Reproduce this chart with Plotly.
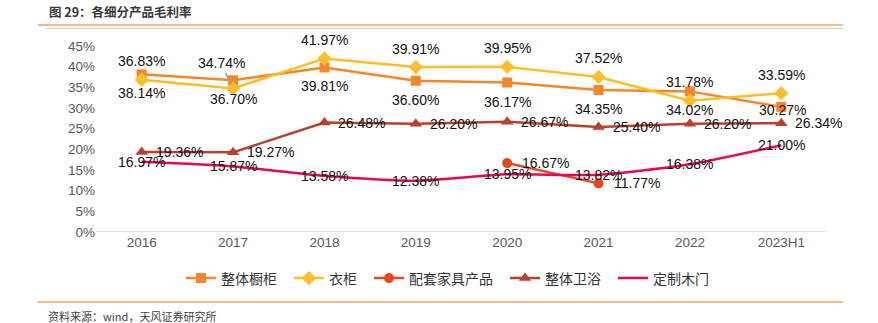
import plotly.graph_objects as go

categories = ["2016", "2017", "2018", "2019", "2020", "2021", "2022", "2023H1"]
cabinet = [38.14, 36.70, 39.81, 36.60, 36.17, 34.35, 34.02, 30.27]      # 整体橱柜
wardrobe = [36.83, 34.74, 41.97, 39.91, 39.95, 37.52, 31.78, 33.59]     # 衣柜
furniture = [None, None, None, None, 16.67, 11.77, None, None]          # 配套家具产品
bathroom = [19.36, 19.27, 26.48, 26.20, 26.67, 25.40, 26.20, 26.34]     # 整体卫浴
door = [16.97, 15.87, 13.58, 12.38, 13.95, 13.82, 16.38, 21.00]         # 定制木门
y_ticks = [0, 5, 10, 15, 20, 25, 30, 35, 40, 45]

LBL = dict(family="Liberation Sans, Arial, sans-serif", size=14, color="#111111")
PAD = "\u2002"  # small trailing gap between legend entries

fig = go.Figure()
fig.add_trace(go.Scatter(
    x=categories, y=cabinet, name="整体橱柜" + PAD, mode="lines+markers",
    line=dict(color="#F5862A", width=2.5),
    marker=dict(symbol="square", size=10, color="#F5862A")))
fig.add_trace(go.Scatter(
    x=categories, y=wardrobe, name="衣柜" + PAD, mode="lines+markers",
    line=dict(color="#FDBE2C", width=2.5),
    marker=dict(symbol="diamond", size=11, color="#FDBE2C")))
fig.add_trace(go.Scatter(
    x=categories, y=furniture, name="配套家具产品" + PAD, mode="lines+markers",
    line=dict(color="#E2491E", width=2.5),
    marker=dict(symbol="circle", size=10, color="#E2491E"),
    connectgaps=False))
fig.add_trace(go.Scatter(
    x=categories, y=bathroom, name="整体卫浴" + PAD, mode="lines+markers",
    line=dict(color="#B8412E", width=2.5),
    marker=dict(symbol="triangle-up", size=11, color="#B8412E")))
fig.add_trace(go.Scatter(
    x=categories, y=door, name="定制木门", mode="lines",
    line=dict(color="#E8084F", width=2.5, shape="spline", smoothing=0.6)))

def add_labels(vals, xanchor="center", xshift=0, yshift=0, skip=(), special=None):
    special = special or {}
    for i, v in enumerate(vals):
        if v is None or i in skip:
            continue
        xs, ys = special.get(i, (xshift, yshift))
        fig.add_annotation(x=i, y=v, text=f"{v:.2f}%", showarrow=False,
                           xanchor=xanchor, yanchor="middle",
                           xshift=xs, yshift=ys, font=LBL)

add_labels(door)
add_labels(cabinet, yshift=-19, special={7: (1, -3)})
add_labels(wardrobe, yshift=18.5, skip=(1,))
add_labels(furniture, xanchor="left", xshift=13)
add_labels(bathroom, xanchor="left", xshift=12)

fig.add_annotation(x=1, y=wardrobe[1], text=f"{wardrobe[1]:.2f}%",
                   showarrow=True, arrowhead=0, arrowcolor="#A0A0A0", arrowwidth=1.5,
                   ax=-12, ay=-25, standoff=4, font=LBL)

fig.update_layout(
    width=878, height=323,
    margin=dict(l=96, r=51, t=46, b=91),
    paper_bgcolor="white", plot_bgcolor="white",
    font=dict(family="Liberation Sans, Arial, Noto Sans CJK SC, sans-serif"),
    showlegend=True,
    legend=dict(orientation="h", x=(181 - 96) / 731, xanchor="left",
                y=-0.25, yanchor="middle",
                font=dict(family="Noto Sans CJK SC, sans-serif", size=14, color="#333333"),
                itemwidth=30, tracegroupgap=0, bgcolor="rgba(0,0,0,0)"),
    xaxis=dict(type="category", range=[-0.5, 7.5], showgrid=False, zeroline=False,
               showline=False, ticks="", tickfont=dict(size=13.5, color="#595959")),
    yaxis=dict(range=[0, 45], tickvals=y_ticks, ticktext=[f"{t}%" for t in y_ticks],
               showgrid=False, zeroline=False, showline=False, ticks="",
               tickfont=dict(size=13.5, color="#595959")),
)

# baseline
fig.add_shape(type="line", xref="paper", yref="y", x0=0, x1=1, y0=0, y1=0,
              line=dict(color="#D9D9D9", width=1.5))
# header/footer rules
fig.add_shape(type="line", xref="paper", yref="paper",
              x0=(38-96)/731, x1=(843-96)/731, y0=(323-91-25)/186, y1=(323-91-25)/186,
              line=dict(color="#F4A460", width=1.5))
fig.add_shape(type="line", xref="paper", yref="paper",
              x0=(46-96)/731, x1=(843-96)/731, y0=(323-91-28.5)/186, y1=(323-91-28.5)/186,
              line=dict(color="#D0D0D0", width=1.2))
fig.add_shape(type="line", xref="paper", yref="paper",
              x0=(38-96)/731, x1=(843-96)/731, y0=(323-91-302)/186, y1=(323-91-302)/186,
              line=dict(color="#F4A460", width=1.5))

fig.add_annotation(xref="paper", yref="paper", x=(47-96)/731, y=(323-91-12)/186,
                   xanchor="left", yanchor="middle", showarrow=False,
                   text="<b>图 29：各细分产品毛利率</b>",
                   font=dict(family="Noto Sans CJK SC, sans-serif", size=12.5, color="#3a3a3a"))
fig.add_annotation(xref="paper", yref="paper", x=(46-96)/731, y=(323-91-316)/186,
                   xanchor="left", yanchor="middle", showarrow=False,
                   text="资料来源：wind，天风证券研究所",
                   font=dict(family="Noto Sans CJK SC, sans-serif", size=11, color="#404040"))

fig.write_html("out.html")
